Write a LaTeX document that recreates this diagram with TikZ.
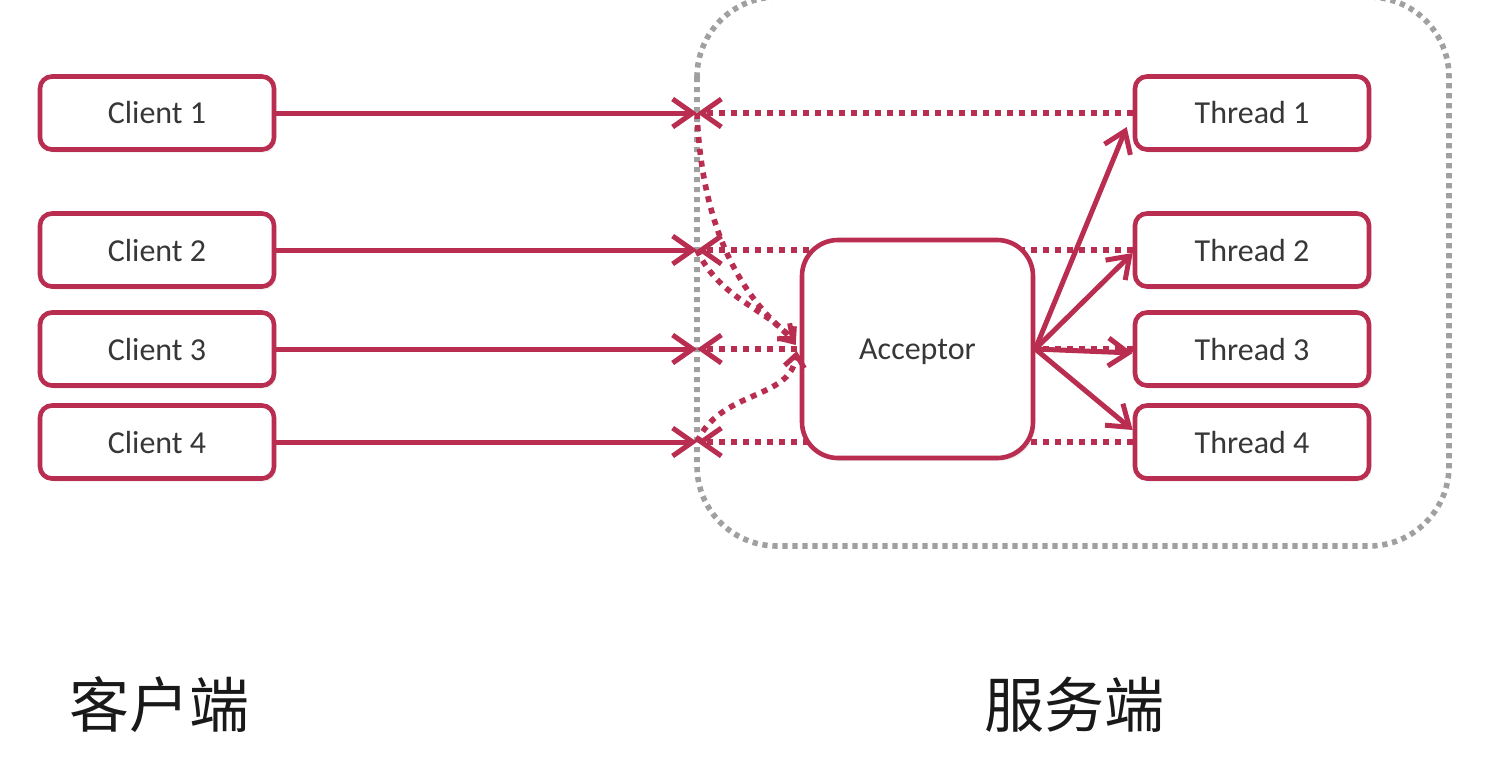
\documentclass[tikz,border=0pt]{standalone}
\usepackage{fontspec}
\setmainfont{Carlito}
\newfontfamily\cjk{Noto Sans CJK SC}
\usetikzlibrary{arrows.meta,backgrounds,shadows,calc}
\definecolor{crim}{RGB}{185,45,80}
\definecolor{txt}{RGB}{55,55,55}
\definecolor{dotgray}{RGB}{160,160,160}
\begin{document}
\begin{tikzpicture}[x=0.5pt,y=-0.5pt,
  box/.style={draw=crim, line width=2.3pt, fill=white, rounded corners=6pt,
    minimum width=117pt, minimum height=36.5pt, inner sep=0pt,
    font=\fontsize{16}{18}\selectfont, text=txt,
    drop shadow={opacity=0.15, shadow xshift=1.2pt, shadow yshift=-1.5pt}},
  accbox/.style={box, rounded corners=18pt, minimum width=115.5pt, minimum height=109pt},
  solidarr/.style={draw=crim, line width=2.5pt, -{Straight Barb[length=10pt,width=14pt,line width=2.5pt]}},
  dotarr/.style={draw=crim, line width=2.8pt, dash pattern=on 3pt off 3pt,
    -{Straight Barb[length=10pt,width=14pt,line width=2.5pt]}},
  dotcurve/.style={draw=crim, line width=2.8pt, dash pattern=on 3pt off 3pt,
    -{Straight Barb[length=6pt,width=10pt,line width=2.5pt]}},
  graydot/.style={draw=dotgray, line width=2.8pt, dash pattern=on 2.6pt off 2.4pt},
  lbl/.style={font=\cjk\fontsize{30}{34}\selectfont, text=black!90}
]
\useasboundingbox (0,0) rectangle (1500,762);

% nodes
\node[box] (c1) at (157,113) {Client 1};
\node[box] (c2) at (157,250) {Client 2};
\node[box] (c3) at (157,349) {Client 3};
\node[box] (c4) at (157,442) {Client 4};
\node[box] (t1) at (1252,113) {Thread 1};
\node[box] (t2) at (1252,250) {Thread 2};
\node[box] (t3) at (1252,349) {Thread 3};
\node[box] (t4) at (1252,442) {Thread 4};
\node[accbox] (acc) at (917.5,349) {\raisebox{-1.5pt}[\height][\depth]{Acceptor}};

\coordinate (j1) at (697,113);
\coordinate (j2) at (697,250);
\coordinate (j3) at (697,349);
\coordinate (j4) at (697,442);

\begin{scope}[on background layer]
  \draw[graydot, rounded corners=40pt] (697,-3) rectangle (1449,546);
  \draw[dotarr] (t1) -- (j1);
  \draw[dotarr] (t2) -- (j2);
  \draw[dotarr] (t3) -- (j3);
  \draw[dotarr] (t4) -- (j4);
\end{scope}

% curves from junctions to acceptor
\draw[dotcurve] (j1) .. controls (702,235) and (745,300) .. ($(acc.west)+(-4,-8)$);
\draw[dotcurve] (j2) .. controls (720,300) and (770,310) .. ($(acc.west)+(-4,-4)$);
\draw[dotcurve] (j4) .. controls (720,390) and (790,400) .. ($(acc.west)+(-3,2)$);

% client arrows
\draw[solidarr] (c1) -- (j1);
\draw[solidarr] (c2) -- (j2);
\draw[solidarr] (c3) -- (j3);
\draw[solidarr] (c4) -- (j4);

% acceptor to threads
\draw[solidarr] (acc.east) -- ([shift={(-6,14)}]t1.west);
\draw[solidarr] (acc.east) -- ([shift={(0,3)}]t2.west);
\draw[solidarr] (acc.east) -- ([shift={(0,4)}]t3.west);
\draw[solidarr] (acc.east) -- ([shift={(0,-12)}]t4.west);

% labels
\node[lbl] (lc) at (159,705) {客户端};
\node[lbl] (ls) at (1074,705) {服务端};
\end{tikzpicture}
\end{document}
